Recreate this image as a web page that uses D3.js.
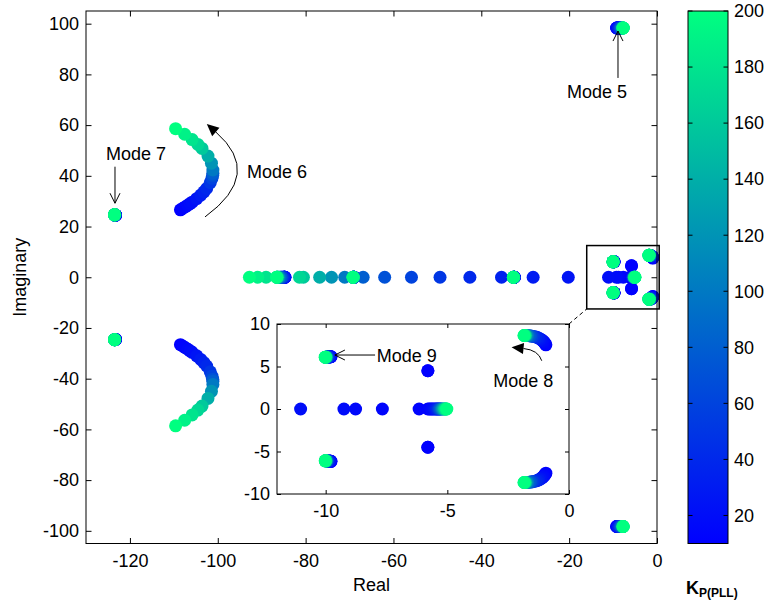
<!DOCTYPE html>
<html>
<head>
<meta charset="utf-8">
<script src="https://cdn.jsdelivr.net/npm/d3@7"></script>
<style>
body { margin: 0; background: #fff; }
svg { font-family: "Liberation Sans", Arial, Helvetica, sans-serif; }
</style>
</head>
<body>
<svg id="chart" width="770" height="603"></svg>
<script>
// gain sweep
var kp = [10, 12, 14, 16, 18, 20, 25, 30, 35, 40, 50, 60, 70, 80, 100, 120, 140, 160, 170, 180, 190, 200];

// eigenvalue traces, one value per gain (upper half only, conjugates mirrored)
var mode5Re = [-9.2, -9.15, -9.1, -9.05, -9.0, -8.95, -8.85, -8.75, -8.65, -8.55, -8.4, -8.3, -8.2, -8.1, -7.95, -7.85, -7.8, -7.76, -7.74, -7.72, -7.71, -7.7];
var mode5Im = [98.3, 98.3, 98.3, 98.3, 98.3, 98.3, 98.3, 98.3, 98.3, 98.3, 98.3, 98.3, 98.3, 98.3, 98.3, 98.3, 98.3, 98.3, 98.3, 98.3, 98.3, 98.3];
var mode6Re = [-108.5, -107.92, -107.37, -106.83, -106.32, -105.84, -104.8, -103.88, -103.15, -102.53, -101.71, -101.32, -101.16, -101.11, -101.11, -101.44, -102.23, -103.59, -104.53, -105.84, -107.54, -109.6];
var mode6Im = [26.6, 27.2, 27.8, 28.4, 29.0, 29.6, 31.0, 32.4, 33.7, 35.0, 37.3, 39.0, 40.2, 41.0, 42.3, 45.0, 47.8, 50.8, 52.4, 54.3, 56.4, 58.6];
var mode7Re = [-123.3, -123.3, -123.3, -123.3, -123.35, -123.35, -123.35, -123.4, -123.4, -123.4, -123.4, -123.45, -123.45, -123.45, -123.45, -123.5, -123.5, -123.5, -123.5, -123.5, -123.5, -123.5];
var mode7Im = [24.5, 24.5, 24.5, 24.5, 24.5, 24.5, 24.55, 24.55, 24.55, 24.55, 24.55, 24.6, 24.6, 24.6, 24.6, 24.6, 24.6, 24.6, 24.6, 24.6, 24.6, 24.6];
var mode8Re = [-0.95, -0.98, -1.01, -1.04, -1.07, -1.1, -1.17, -1.24, -1.3, -1.36, -1.45, -1.52, -1.58, -1.63, -1.7, -1.75, -1.78, -1.8, -1.81, -1.82, -1.84, -1.85];
var mode8Im = [7.55, 7.68, 7.8, 7.9, 8.0, 8.08, 8.22, 8.33, 8.41, 8.47, 8.53, 8.57, 8.6, 8.62, 8.64, 8.65, 8.65, 8.65, 8.65, 8.65, 8.65, 8.65];
var mode9Re = [-9.78, -9.79, -9.8, -9.81, -9.82, -9.83, -9.85, -9.87, -9.89, -9.9, -9.92, -9.94, -9.95, -9.96, -9.97, -9.98, -9.99, -10.0, -10.0, -10.01, -10.01, -10.02];
var mode9Im = [6.16, 6.16, 6.15, 6.15, 6.15, 6.14, 6.14, 6.13, 6.13, 6.12, 6.12, 6.11, 6.11, 6.1, 6.1, 6.1, 6.1, 6.1, 6.1, 6.1, 6.1, 6.1];
// complex pair that breaks onto the real axis
var leftRe = [-5.8, -6.16, -7.67, -8.77, -9.25, -11.03, -20.2, -28.2, -35.4, -42.6, -49.4, -55.9, -62.0, -66.9, -71.1, -74.1, -76.8, -80.5, -81.4, -89.0, -90.9, -92.8];
var leftIm = [4.5, 0, 0, 0, 0, 0, 0, 0, 0, 0, 0, 0, 0, 0, 0, 0, 0, 0, 0, 0, 0, 0];
var rightRe = [-5.8, -5.8, -5.74, -5.68, -5.63, -5.58, -5.52, -5.47, -5.43, -5.4, -5.36, -5.33, -5.3, -5.27, -5.23, -5.19, -5.15, -5.11, -5.09, -5.06, -5.04, -5.02];
var rightIm = [4.5, 0, 0, 0, 0, 0, 0, 0, 0, 0, 0, 0, 0, 0, 0, 0, 0, 0, 0, 0, 0, 0];
// real modes that barely move
var realARe = [-84.7, -84.72, -84.75, -84.78, -84.8, -84.83, -84.9, -84.98, -85.05, -85.12, -85.3, -85.45, -85.6, -85.75, -86.0, -86.2, -86.35, -86.45, -86.5, -86.55, -86.58, -86.6];
var realBRe = [-69.0, -69.0, -69.01, -69.02, -69.03, -69.04, -69.05, -69.06, -69.07, -69.08, -69.1, -69.11, -69.12, -69.13, -69.15, -69.16, -69.17, -69.18, -69.19, -69.19, -69.2, -69.2];
var realCRe = [-32.5, -32.5, -32.51, -32.52, -32.53, -32.54, -32.55, -32.56, -32.57, -32.58, -32.6, -32.61, -32.62, -32.63, -32.65, -32.66, -32.67, -32.68, -32.69, -32.69, -32.7, -32.7];
var realIm = [0, 0, 0, 0, 0, 0, 0, 0, 0, 0, 0, 0, 0, 0, 0, 0, 0, 0, 0, 0, 0, 0];

var xTicks = [-120, -100, -80, -60, -40, -20, 0];
var yTicks = [-100, -80, -60, -40, -20, 0, 20, 40, 60, 80, 100];
var xTicksInset = [-10, -5, 0];
var yTicksInset = [-10, -5, 0, 5, 10];
var cbTicks = [20, 40, 60, 80, 100, 120, 140, 160, 180, 200];

var modes = [
	{re: realARe, im: realIm}, {re: realBRe, im: realIm}, {re: realCRe, im: realIm},
	{re: leftRe, im: leftIm}, {re: rightRe, im: rightIm},
	{re: mode5Re, im: mode5Im}, {re: mode6Re, im: mode6Im}, {re: mode7Re, im: mode7Im},
	{re: mode8Re, im: mode8Im}, {re: mode9Re, im: mode9Im}
];

// all eigenvalues, gain by gain, so the high gains end up on top
var pts = [];
kp.forEach(function (k, i) {
	modes.forEach(function (m) {
		pts.push({re: m.re[i], im: m.im[i], k: k});
		if (m.im[i] > 0)
			pts.push({re: m.re[i], im: -m.im[i], k: k});
	});
});

var svg = d3.select('#chart');
var FS = 18;
var R = 6.5;

var color = d3.scaleLinear().domain([10, 200]).range(['#0000ff', '#00ff80']).interpolate(d3.interpolateRgb);

var x = d3.scaleLinear().domain([-130, 0]).range([86, 657]);
var y = d3.scaleLinear().domain([-105, 105]).range([543.5, 11]);
var xi = d3.scaleLinear().domain([-12, 0]).range([277, 569]);
var yi = d3.scaleLinear().domain([-10, 10]).range([494, 324]);
var cb = d3.scaleLinear().domain([10, 200]).range([543.5, 11]);

var fmt = function (d) { return String(d); };

function frame(g, sx, sy, xt, yt, tick, pad) {
	var x0 = sx.range()[0], x1 = sx.range()[1], y0 = sy.range()[0], y1 = sy.range()[1];
	var bot = g.append('g').attr('transform', 'translate(0,' + y0 + ')')
		.call(d3.axisBottom(sx).tickValues(xt).tickSize(-tick).tickSizeOuter(0).tickPadding(pad).tickFormat(fmt));
	var top = g.append('g').attr('transform', 'translate(0,' + y1 + ')')
		.call(d3.axisTop(sx).tickValues(xt).tickSize(-tick).tickSizeOuter(0).tickFormat(''));
	var lft = g.append('g').attr('transform', 'translate(' + x0 + ',0)')
		.call(d3.axisLeft(sy).tickValues(yt).tickSize(-tick).tickSizeOuter(0).tickPadding(7).tickFormat(fmt));
	var rgt = g.append('g').attr('transform', 'translate(' + x1 + ',0)')
		.call(d3.axisRight(sy).tickValues(yt).tickSize(-tick).tickSizeOuter(0).tickFormat(''));
	[bot, top, lft, rgt].forEach(function (a) {
		a.select('.domain').remove();
		a.selectAll('line').attr('stroke', '#000');
		a.selectAll('text').attr('fill', '#000').attr('font-size', FS).attr('font-family', null);
	});
	g.append('rect').attr('x', x0).attr('y', y1).attr('width', x1 - x0).attr('height', y0 - y1)
		.attr('fill', 'none').attr('stroke', '#000').attr('stroke-width', 1);
}

function arrow(g, p0, ctrl, tip, head) {
	var from = ctrl || p0;
	var dx = tip[0] - from[0], dy = tip[1] - from[1];
	var len = Math.sqrt(dx * dx + dy * dy);
	var ux = dx / len, uy = dy / len;
	var L = head == 'filled' ? 12 : 10, W = head == 'filled' ? 5.5 : 5;
	var base = head == 'filled' ? [tip[0] - ux * L, tip[1] - uy * L] : tip;
	var p = d3.path();
	p.moveTo(p0[0], p0[1]);
	if (ctrl) p.quadraticCurveTo(ctrl[0], ctrl[1], base[0], base[1]);
	else p.lineTo(base[0], base[1]);
	g.append('path').attr('d', p.toString()).attr('fill', 'none').attr('stroke', '#000').attr('stroke-width', 1);
	var bx = tip[0] - ux * L, by = tip[1] - uy * L;
	var a = [bx - uy * W, by + ux * W], b = [bx + uy * W, by - ux * W];
	if (head == 'filled') {
		g.append('path').attr('d', 'M' + tip + 'L' + a + 'L' + b + 'Z').attr('fill', '#000');
	} else {
		g.append('path').attr('d', 'M' + a + 'L' + tip + 'L' + b).attr('fill', 'none').attr('stroke', '#000').attr('stroke-width', 1);
	}
}

function label(g, txt, px, py, anchor) {
	g.append('text').attr('x', px).attr('y', py).attr('text-anchor', anchor)
		.attr('font-size', FS).attr('fill', '#000').text(txt);
}

// main plot
var main = svg.append('g');
main.selectAll('circle').data(pts).enter().append('circle')
	.attr('cx', function (d) { return x(d.re); })
	.attr('cy', function (d) { return y(d.im); })
	.attr('r', R)
	.style('fill', function (d) { return color(d.k); });
frame(main, x, y, xTicks, yTicks, 5.5, 11);

// zoom box on the main plot
main.append('rect').attr('x', x(-16)).attr('y', y(12.5))
	.attr('width', x(0.5) - x(-16)).attr('height', y(-12.5) - y(12.5))
	.attr('fill', 'none').attr('stroke', '#000').attr('stroke-width', 1.5);

// annotations
var ann = svg.append('g');
label(ann, 'Mode 7', x(-125.45), y(46.2), 'start');
arrow(ann, [x(-123.4), y(43.6)], null, [x(-123.4), y(29.2)], 'open');
label(ann, 'Mode 6', x(-93.35), y(39.1), 'start');
arrow(ann, [x(-102.9), y(23.8)], [x(-89.5), y(40.7)], [x(-102.5), y(60.4)], 'filled');
label(ann, 'Mode 5', x(-6.83), y(70.7), 'end');
arrow(ann, [x(-8.88), y(78.6)], null, [x(-8.88), y(97.1)], 'open');

// inset
var ins = svg.append('g');
ins.append('rect').attr('x', xi.range()[0]).attr('y', yi.range()[1])
	.attr('width', xi.range()[1] - xi.range()[0]).attr('height', yi.range()[0] - yi.range()[1])
	.attr('fill', '#fff');
var inPts = pts.filter(function (d) {
	return d.re >= -12 && d.re <= 0 && d.im >= -10 && d.im <= 10;
});
ins.selectAll('circle').data(inPts).enter().append('circle')
	.attr('cx', function (d) { return xi(d.re); })
	.attr('cy', function (d) { return yi(d.im); })
	.attr('r', R)
	.style('fill', function (d) { return color(d.k); });
frame(ins, xi, yi, xTicksInset, yTicksInset, 4, 10);
label(ins, 'Mode 9', xi(-7.9), yi(5.5), 'start');
arrow(ins, [xi(-7.97), yi(6.35)], null, [xi(-9.62), yi(6.35)], 'open');
label(ins, 'Mode 8', xi(-3.11), yi(2.55), 'start');
arrow(ins, [xi(-1.12), yi(5.68)], [xi(-1.26), yi(6.94)], [xi(-2.36), yi(7.26)], 'filled');

// dashed link between inset and zoom box
svg.append('line')
	.attr('x1', xi(0)).attr('y1', yi(10)).attr('x2', x(-16)).attr('y2', y(-12.5))
	.attr('stroke', '#000').attr('stroke-width', 1).attr('stroke-dasharray', '4,3');

// axis titles
svg.append('text').attr('x', (x.range()[0] + x.range()[1]) / 2).attr('y', 591)
	.attr('text-anchor', 'middle').attr('font-size', FS).text('Real');
svg.append('text').attr('transform', 'translate(26,' + y(0) + ') rotate(-90)')
	.attr('text-anchor', 'middle').attr('font-size', FS).text('Imaginary');

// colorbar
var defs = svg.append('defs');
var grad = defs.append('linearGradient').attr('id', 'winter')
	.attr('x1', 0).attr('y1', 1).attr('x2', 0).attr('y2', 0);
grad.append('stop').attr('offset', '0%').attr('stop-color', color(10));
grad.append('stop').attr('offset', '100%').attr('stop-color', color(200));

var cbx = 688, cbw = 40;
var cbg = svg.append('g');
cbg.append('rect').attr('x', cbx).attr('y', cb(200)).attr('width', cbw).attr('height', cb(10) - cb(200))
	.attr('fill', 'url(#winter)');
cbg.selectAll('line.l').data(cbTicks).enter().append('line')
	.attr('x1', cbx).attr('x2', cbx + 4.5)
	.attr('y1', function (d) { return cb(d); }).attr('y2', function (d) { return cb(d); })
	.attr('stroke', '#000');
cbg.selectAll('line.r').data(cbTicks).enter().append('line')
	.attr('x1', cbx + cbw - 4.5).attr('x2', cbx + cbw)
	.attr('y1', function (d) { return cb(d); }).attr('y2', function (d) { return cb(d); })
	.attr('stroke', '#000');
cbg.selectAll('text').data(cbTicks).enter().append('text')
	.attr('x', cbx + cbw + 6).attr('y', function (d) { return cb(d); }).attr('dy', '0.35em')
	.attr('font-size', FS).text(fmt);
cbg.append('rect').attr('x', cbx).attr('y', cb(200)).attr('width', cbw).attr('height', cb(10) - cb(200))
	.attr('fill', 'none').attr('stroke', '#000').attr('stroke-width', 1);

var kt = svg.append('text').attr('x', 686).attr('y', 594).attr('font-weight', 'bold');
kt.append('tspan').attr('font-size', FS).text('K');
kt.append('tspan').attr('font-size', 12).attr('dy', 3).text('P(PLL)');
</script>
</body>
</html>
